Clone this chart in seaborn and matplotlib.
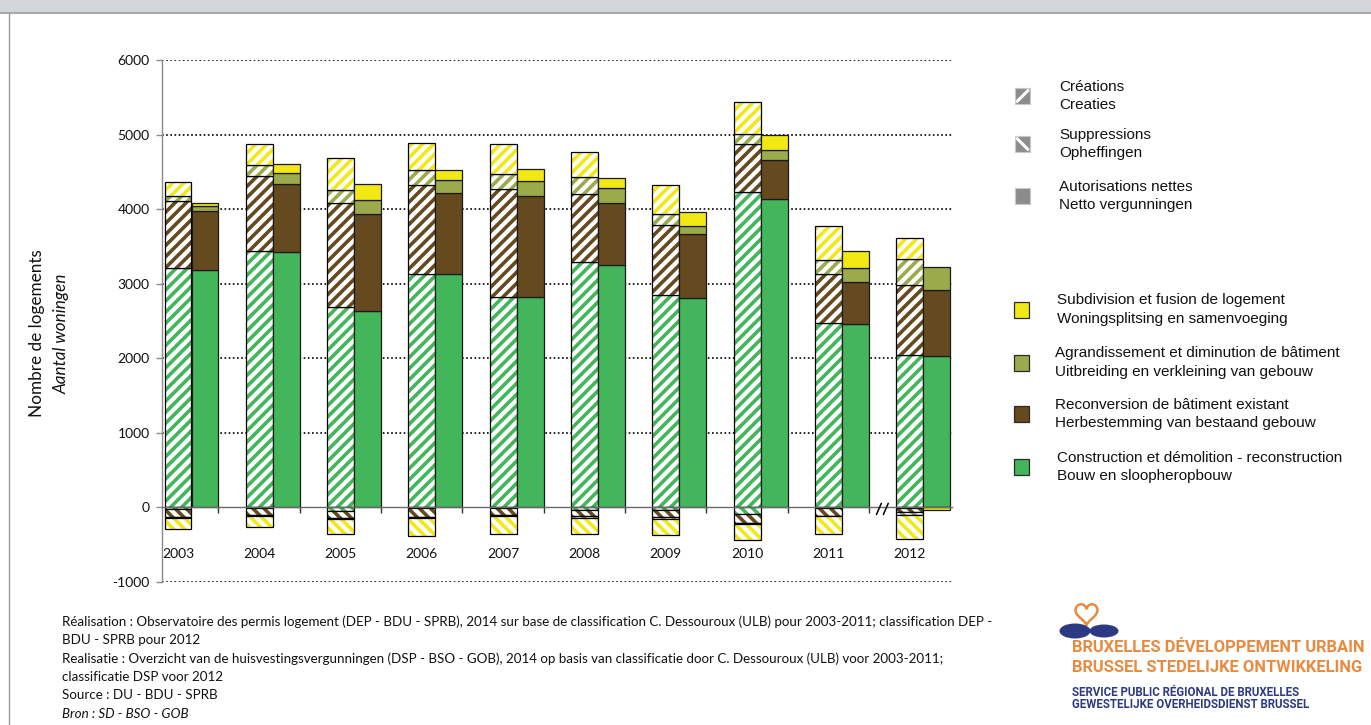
import numpy as np
import matplotlib
matplotlib.use("Agg")
import matplotlib.pyplot as plt
import seaborn as sns
from matplotlib.patches import Rectangle, Ellipse, PathPatch
from matplotlib.path import Path
from matplotlib.lines import Line2D

# ---------------- data ----------------
years = ["2003", "2004", "2005", "2006", "2007", "2008", "2009", "2010", "2011", "2012"]

# Créations (hatched "/", positive) - stacking order bottom -> top
cre_construction = [3210, 3433, 2683, 3134, 2822, 3290, 2844, 4228, 2474, 2049]
cre_reconversion = [893, 1009, 1393, 1196, 1446, 911, 941, 642, 660, 938]
cre_agrandissement = [67, 156, 183, 197, 205, 228, 147, 143, 187, 348]
cre_subdivision = [192, 272, 424, 366, 402, 334, 398, 420, 452, 277]

# Suppressions (hatched "\", drawn below zero)
sup_construction = [25, 9, 45, 10, 10, 36, 40, 90, 14, 13]
sup_reconversion = [100, 94, 94, 116, 90, 76, 85, 120, 97, 54]
sup_agrandissement = [15, 8, 10, 18, 10, 36, 27, 8, 10, 40]
sup_subdivision = [145, 156, 206, 237, 240, 204, 218, 220, 229, 317]

# Autorisations nettes (solid)
net_construction = [3183, 3424, 2638, 3134, 2822, 3254, 2804, 4138, 2460, 2036]
net_reconversion = [794, 915, 1299, 1080, 1356, 835, 856, 522, 563, 884]
net_agrandissement = [63, 148, 188, 179, 201, 192, 120, 135, 187, 308]
net_subdivision = [49, 116, 218, 129, 157, 130, 180, 200, 223, -40]

cat_colors = ["#43B65C", "#654A1F", "#9BAA4A", "#F2E814"]  # construction, reconversion, agrandissement, subdivision

y_ticks = [-1000, 0, 1000, 2000, 3000, 4000, 5000, 6000]

legend_top_labels = ["Créations\nCreaties", "Suppressions\nOpheffingen",
                     "Autorisations nettes\nNetto vergunningen"]
legend_cat_labels = ["Subdivision et fusion de logement\nWoningsplitsing en samenvoeging",
                     "Agrandissement et diminution de bâtiment\nUitbreiding en verkleining van gebouw",
                     "Reconversion de bâtiment existant\nHerbestemming van bestaand gebouw",
                     "Construction et démolition - reconstruction\nBouw en sloopheropbouw"]
legend_cat_colors = ["#F2E814", "#9BAA4A", "#654A1F", "#43B65C"]

ylabel_fr = "Nombre de logements"
ylabel_nl = "Aantal woningen"

footer_lines = [
    "Réalisation : Observatoire des permis logement (DEP - BDU - SPRB), 2014 sur base de classification C. Dessouroux (ULB) pour 2003-2011; classification DEP -",
    "BDU - SPRB pour 2012",
    "Realisatie : Overzicht van de huisvestingsvergunningen (DSP - BSO - GOB), 2014 op basis van classificatie door C. Dessouroux (ULB) voor 2003-2011;",
    "classificatie DSP voor 2012",
    "Source : DU - BDU - SPRB",
    "Bron : SD - BSO - GOB",
]
logo_lines = ["BRUXELLES DÉVELOPPEMENT URBAIN", "BRUSSEL STEDELIJKE ONTWIKKELING",
              "SERVICE PUBLIC RÉGIONAL DE BRUXELLES", "GEWESTELIJKE OVERHEIDSDIENST BRUSSEL"]

# ---------------- style ----------------
sns.set_theme(style="white")
plt.rcParams["font.family"] = ["Lato", "DejaVu Sans"]
plt.rcParams["hatch.linewidth"] = 2.6

W, H = 1371, 725
fig = plt.figure(figsize=(W / 100, H / 100), dpi=100)
fig.patch.set_facecolor("white")


def fx(x):
    return x / W


def fy(y):
    return 1 - y / H


ax = fig.add_axes([fx(162), fy(582), fx(952) - fx(162), fy(60) - fy(582)])
ax.set_facecolor("white")

n = len(years)
BAR_W = 0.332
idx = np.arange(n)
x_left = idx - BAR_W / 2
x_right = idx + BAR_W / 2


def stacked(xpos, layers, hatch):
    pos_base = np.zeros(n)
    neg_base = np.zeros(n)
    for vals, col in zip(layers, cat_colors):
        vals = np.asarray(vals, dtype=float)
        bottoms = np.where(vals >= 0, pos_base, neg_base)
        n0 = len(ax.patches)
        sns.barplot(x=xpos, y=vals, native_scale=True, width=BAR_W, bottom=bottoms,
                    errorbar=None, color=col, saturation=1, ax=ax)
        new = ax.patches[n0:]
        if hatch:
            for p in new:
                p.set_facecolor("white")
                p.set_edgecolor(col)
                p.set_hatch(hatch)
                p.set_linewidth(0)
            n1 = len(ax.patches)
            sns.barplot(x=xpos, y=vals, native_scale=True, width=BAR_W, bottom=bottoms,
                        errorbar=None, fill=False, color="black", saturation=1, ax=ax)
            for p in ax.patches[n1:]:
                p.set_facecolor("none")
                p.set_edgecolor("black")
                p.set_linewidth(0.9)
        else:
            for p in new:
                p.set_facecolor(col)
                p.set_edgecolor("#1a1a1a")
                p.set_linewidth(0.9)
        pos_base += np.where(vals >= 0, vals, 0)
        neg_base += np.where(vals < 0, vals, 0)


stacked(x_left, [cre_construction, cre_reconversion, cre_agrandissement, cre_subdivision], "///")
stacked(x_left, [-np.asarray(v) for v in (sup_construction, sup_reconversion,
                                           sup_agrandissement, sup_subdivision)], "\\\\\\")
stacked(x_right, [net_construction, net_reconversion, net_agrandissement, net_subdivision], None)

# ---------------- axes ----------------
ax.set_xlim((162 - 191.5) / 81.3, (952 - 191.5) / 81.3)
ax.set_ylim(-1000, 6000)
ax.set_xlabel("")
ax.set_ylabel("")

for s in ("top", "right"):
    ax.spines[s].set_visible(False)
ax.spines["left"].set_color("#8a8a8a")
ax.spines["left"].set_linewidth(1.0)
ax.spines["bottom"].set_position(("data", 0))
ax.spines["bottom"].set_color("#6a6a6a")
ax.spines["bottom"].set_linewidth(1.0)

ax.set_yticks(y_ticks)
ax.set_yticklabels([str(v) for v in y_ticks])
ax.tick_params(axis="y", left=True, length=4, width=1, color="#8a8a8a",
               labelsize=10, labelcolor="#111111", pad=5)

ax.set_xticks(idx[:-1] + BAR_W)
ax.set_xticklabels([])
ax.set_xticks(x_left, labels=years, minor=True)
ax.tick_params(axis="x", which="major", bottom=True, length=4, width=1, color="#333333", direction="out")
ax.tick_params(axis="x", which="minor", bottom=True, length=0, pad=29, labelsize=10, labelcolor="#111111")

ax.set_axisbelow(True)
ax.yaxis.grid(True, linestyle=(0, (1, 1.5)), color="black", linewidth=1.2)
ax.xaxis.grid(False)
for gl, v in zip(ax.get_ygridlines(), y_ticks):
    if v == 0:
        gl.set_visible(False)

# axis break mark between 2011 and 2012
bx = (idx[-2] + idx[-1]) / 2
for off in (-0.045, 0.04):
    ax.plot([bx + off - 0.03, bx + off + 0.03], [-95, 55], color="black", lw=1.1,
            clip_on=False, zorder=5)

# y label
fig.text(fx(37), fy(333), ylabel_fr, rotation=90, ha="center", va="center", fontsize=12.3,
         color="#111111")
fig.text(fx(62), fy(334), ylabel_nl, rotation=90, ha="center", va="center", fontsize=12.3,
         style="italic", color="#111111")

# ---------------- legend ----------------
LFONT = ["Liberation Sans", "DejaVu Sans"]
top_y = [96, 144, 196]
for k, (lab, yc) in enumerate(zip(legend_top_labels, top_y)):
    x0, x1 = 1015, 1030
    y0, y1 = yc + 7.5, yc - 7.5
    fig.add_artist(Rectangle((fx(x0), fy(y0)), fx(x1) - fx(x0), fy(y1) - fy(y0),
                             transform=fig.transFigure, facecolor="#8c8c8c",
                             edgecolor="#c8c8c8", lw=0.8))
    if k == 0:
        fig.add_artist(Line2D([fx(x0 + 2), fx(x1 - 2)], [fy(y0 - 2), fy(y1 + 2)],
                              transform=fig.transFigure, color="white", lw=2.2))
    elif k == 1:
        fig.add_artist(Line2D([fx(x0 + 2), fx(x1 - 2)], [fy(y1 + 2), fy(y0 - 2)],
                              transform=fig.transFigure, color="white", lw=2.2))
    fig.text(fx(1059), fy(yc), lab, ha="left", va="center", fontsize=11, family=LFONT,
             linespacing=1.45, color="#111111")

cat_y = [309.5, 362.5, 414, 467]
cat_tx = [1057, 1055, 1055, 1057]
for lab, col, yc, tx in zip(legend_cat_labels, legend_cat_colors, cat_y, cat_tx):
    x0, x1 = 1014, 1029
    y0, y1 = yc + 8, yc - 8
    fig.add_artist(Rectangle((fx(x0), fy(y0)), fx(x1) - fx(x0), fy(y1) - fy(y0),
                             transform=fig.transFigure, facecolor=col,
                             edgecolor="#2a2a2a", lw=0.9))
    fig.text(fx(tx), fy(yc), lab, ha="left", va="center", fontsize=11, family=LFONT,
             linespacing=1.4, color="#111111")

# ---------------- footer ----------------
foot_y = [622, 640, 659, 677, 695, 714]
for txt, yy in zip(footer_lines, foot_y):
    fig.text(fx(62), fy(yy), txt, ha="left", va="center", fontsize=9.6,
             style="italic" if txt.startswith("Bron") else "normal", color="#111111")

# ---------------- frame decoration ----------------
fig.add_artist(Rectangle((0, fy(12)), 1, 12 / H, transform=fig.transFigure,
                         facecolor="#D4D7DA", edgecolor="none"))
fig.add_artist(Line2D([0, 1], [fy(12.5), fy(12.5)], transform=fig.transFigure,
                      color="#A8A8A8", lw=1.5))
fig.add_artist(Line2D([fx(9), fx(9)], [fy(13), 0], transform=fig.transFigure,
                      color="#9a9a9a", lw=1.0))

# ---------------- logo ----------------
orange = "#E98A3F"
navy = "#2C3A84"
t = np.linspace(0, 2 * np.pi, 200)
hx = 16 * np.sin(t) ** 3
hy = 13 * np.cos(t) - 5 * np.cos(2 * t) - 2 * np.cos(3 * t) - np.cos(4 * t)
cxh, cyh = 1086.5, 613
px = cxh + hx / 32 * 22
py = cyh - hy / 30 * 22
verts = np.column_stack([fx(px), fy(py)])
fig.add_artist(PathPatch(Path(verts), transform=fig.transFigure, facecolor="none",
                         edgecolor=orange, lw=1.8))
fig.add_artist(Ellipse((fx(1075), fy(631)), 31 / W, 15 / H, transform=fig.transFigure,
                       facecolor=navy, edgecolor="none"))
fig.add_artist(Ellipse((fx(1104), fy(631)), 29 / W, 13 / H, transform=fig.transFigure,
                       facecolor=navy, edgecolor="none"))
LOGO_FONT = ["Roboto", "DejaVu Sans"]
fig.text(fx(1072), fy(648), logo_lines[0], ha="left", va="center", fontsize=11.9,
         family=LOGO_FONT, weight="bold", color=orange)
fig.text(fx(1072), fy(668), logo_lines[1], ha="left", va="center", fontsize=11.9,
         family=LOGO_FONT, weight="bold", color=orange)
fig.text(fx(1072), fy(692.5), logo_lines[2], ha="left", va="center", fontsize=8.3,
         family=LOGO_FONT, weight="bold", color=navy)
fig.text(fx(1072), fy(705), logo_lines[3], ha="left", va="center", fontsize=8.3,
         family=LOGO_FONT, weight="bold", color=navy)

fig.savefig("out.png", dpi=100, facecolor="white")
